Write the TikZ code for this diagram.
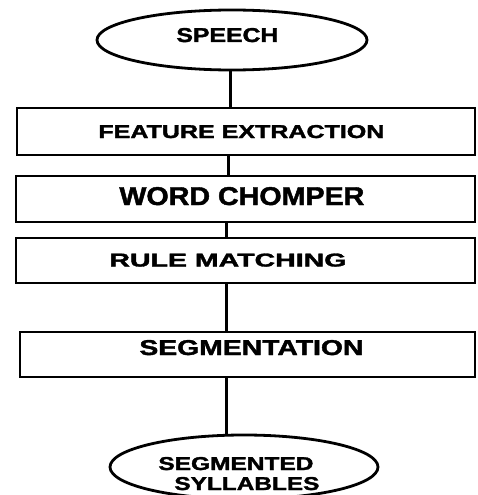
\documentclass[tikz,border=0pt]{standalone}
\usepackage{fontspec}
\setmainfont{Liberation Sans}
\newfontfamily\heavyfont[FakeBold=1.6]{Liberation Sans}
\usetikzlibrary{shapes.geometric}
\newcommand{\fittext}[3]{\resizebox{#1pt}{#2pt}{\heavyfont\bfseries #3}}
\begin{document}
\begin{tikzpicture}[x=1pt,y=-1pt,
  line width=2.8pt,
  boxshape/.style={draw, rectangle, inner sep=0pt},
  ovalshape/.style={draw, ellipse, inner sep=0pt},
  lbl/.style={inner sep=0pt, anchor=base west},
  conn/.style={draw, line width=3pt}]
\useasboundingbox[fill=white] (0,0) rectangle (477,495);
% shapes
\node[ovalshape, minimum width=270pt, minimum height=60pt] (e1) at (232,40) {};
\node[boxshape, minimum width=458pt, minimum height=47pt] (b1) at (246,131.5) {};
\node[boxshape, minimum width=459pt, minimum height=46pt] (b2) at (245.5,199) {};
\node[boxshape, minimum width=459pt, minimum height=45pt] (b3) at (245.5,260.5) {};
\node[boxshape, minimum width=455pt, minimum height=45pt] (b4) at (247.5,354.5) {};
\node[ovalshape, minimum width=268pt, minimum height=64pt] (e2) at (244,467) {};
% labels
\node[lbl] (t0) at (175,42) {\fittext{102}{14}{SPEECH}};
\node[lbl] (t1) at (97,138) {\fittext{286}{13}{FEATURE EXTRACTION}};
\node[lbl] (t2) at (118,205) {\fittext{245}{18}{WORD CHOMPER}};
\node[lbl] (t3) at (108,266.5) {\fittext{237}{13}{RULE MATCHING}};
\node[lbl] (t4) at (138,355) {\fittext{224}{15}{SEGMENTATION}};
\node[lbl] (t5) at (157,470) {\fittext{155}{13}{SEGMENTED}};
\node[lbl] (t6) at (173,490) {\fittext{145}{13}{SYLLABLES}};
% connector columns
\coordinate (c1) at (230,0);
\coordinate (c2) at (228,0);
\coordinate (c3) at (226.5,0);
\coordinate (c4) at (226,0);
\coordinate (c5) at (226,0);
\draw[conn] (c1 |- e1.south) -- (c1 |- b1.north);
\draw[conn] (c2 |- b1.south) -- (c2 |- b2.north);
\draw[conn] (c3 |- b2.south) -- (c3 |- b3.north);
\draw[conn] (c4 |- b3.south) -- (c4 |- b4.north);
\draw[conn] (c5 |- b4.south) -- (c5 |- e2.north);
\end{tikzpicture}
\end{document}
